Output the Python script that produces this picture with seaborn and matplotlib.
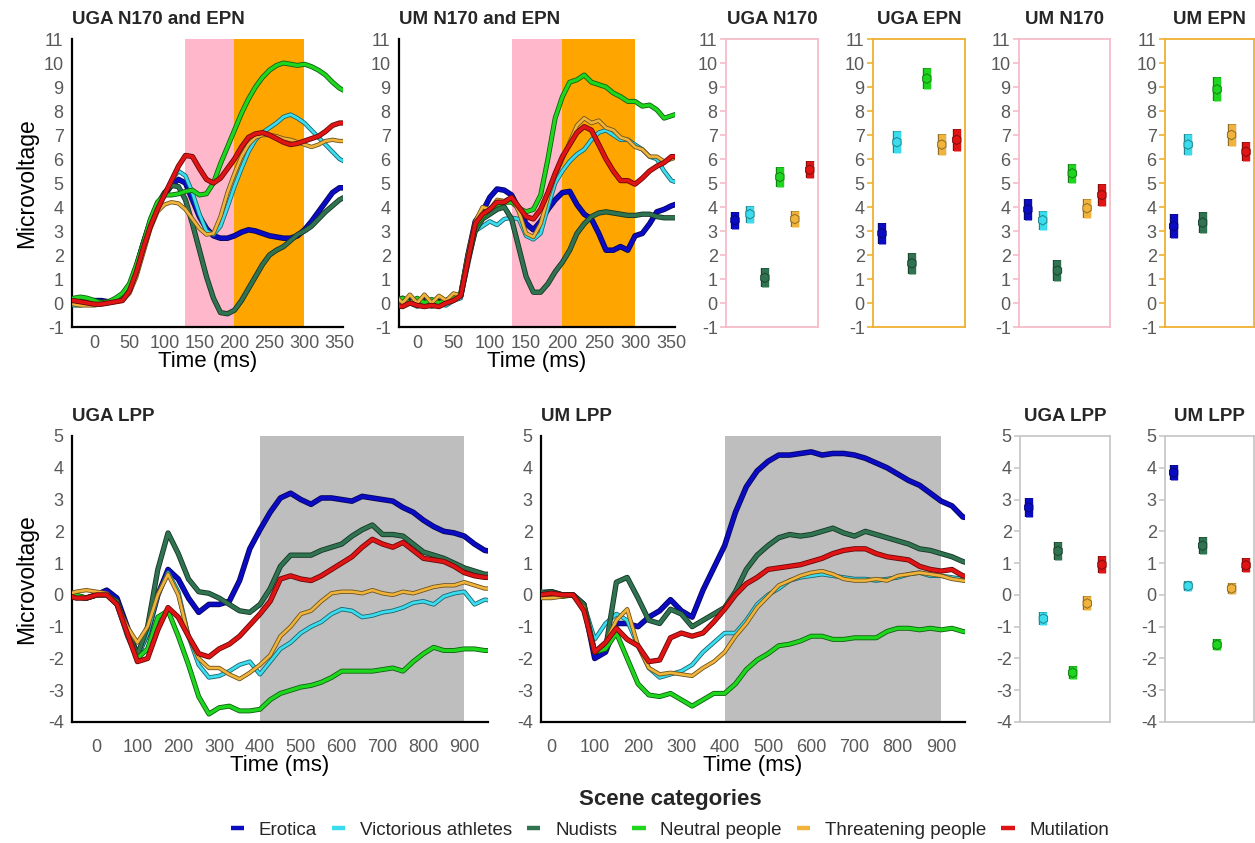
import numpy as np
import pandas as pd
import matplotlib
matplotlib.use("Agg")
import matplotlib.pyplot as plt
import matplotlib.patheffects as pe
from matplotlib.lines import Line2D
import seaborn as sns

# ---------------- data ----------------
CATEGORIES = ["Erotica", "Victorious athletes", "Nudists", "Neutral people",
              "Threatening people", "Mutilation"]
COLORS = ["#0b0bc4", "#3adced", "#2f7350", "#1fd61f", "#f0b43c", "#e01414"]

TIME_TOP = list(range(-30, 361, 10))
TIME_LPP = list(range(-75, 976, 25))

UGA_EPN_EROTICA = [0.0, 0.05, 0.1, 0.1, 0.1, 0.05, 0.1, 0.3, 0.7, 1.5, 2.5, 3.4, 4.1, 4.5, 4.9, 5.15, 5.0, 4.3, 3.6, 3.1,
                   2.8, 2.7, 2.7, 2.8, 2.95, 3.05, 3.0, 2.9, 2.8, 2.75, 2.7, 2.7, 2.8, 3.05, 3.4, 3.8, 4.2, 4.6, 4.8, 4.8]
UGA_EPN_VICTORIOUS = [-0.1, -0.1, -0.05, 0.0, 0.0, 0.0, 0.1, 0.3, 0.6, 1.3, 2.3, 3.3, 4.0, 4.5, 5.1, 5.5, 5.3, 4.6, 3.7, 3.0,
                      2.85, 3.2, 4.0, 4.85, 5.6, 6.3, 6.8, 7.1, 7.3, 7.5, 7.75, 7.85, 7.7, 7.5, 7.2, 6.9, 6.6, 6.3, 6.0, 5.85]
UGA_EPN_NUDISTS = [0.0, 0.0, 0.05, 0.0, 0.05, 0.05, 0.1, 0.3, 0.7, 1.5, 2.5, 3.4, 4.1, 4.6, 4.9, 4.85, 4.3, 3.3, 2.2, 1.1,
                   0.2, -0.4, -0.45, -0.3, 0.1, 0.6, 1.1, 1.6, 2.0, 2.2, 2.35, 2.6, 2.85, 3.0, 3.2, 3.5, 3.8, 4.05, 4.3, 4.45]
UGA_EPN_NEUTRAL = [0.2, 0.25, 0.2, 0.1, 0.0, 0.05, 0.2, 0.4, 0.8, 1.6, 2.5, 3.5, 4.2, 4.5, 4.5, 4.55, 4.65, 4.7, 4.5, 4.55,
                   5.0, 5.8, 6.5, 7.2, 7.9, 8.5, 9.0, 9.4, 9.7, 9.9, 10.0, 9.95, 9.9, 9.95, 9.85, 9.7, 9.5, 9.2, 8.95, 8.8]
UGA_EPN_THREAT = [-0.05, -0.1, -0.1, -0.1, -0.05, 0.0, 0.05, 0.1, 0.4, 1.1, 2.1, 3.1, 3.8, 4.1, 4.2, 4.15, 3.9, 3.5, 3.1, 2.85,
                  2.9, 3.6, 4.6, 5.4, 6.1, 6.6, 6.9, 7.0, 7.0, 6.95, 6.85, 6.8, 6.7, 6.6, 6.5, 6.6, 6.75, 6.8, 6.75, 6.75]
UGA_EPN_MUTIL = [0.1, 0.05, 0.0, -0.05, -0.05, 0.0, 0.05, 0.1, 0.5, 1.3, 2.3, 3.2, 3.9, 4.5, 5.1, 5.7, 6.15, 6.1, 5.6, 5.15,
                 5.0, 5.2, 5.6, 6.0, 6.5, 6.9, 7.05, 7.1, 7.0, 6.85, 6.7, 6.6, 6.65, 6.75, 6.85, 6.95, 7.15, 7.4, 7.5, 7.5]

UM_EPN_EROTICA = [0.1, 0.0, 0.1, 0.0, 0.1, 0.0, 0.05, 0.1, 0.2, 0.3, 2.0, 3.4, 3.8, 4.4, 4.75, 4.7, 4.5, 3.9, 3.3, 3.05,
                  3.4, 3.9, 4.3, 4.6, 4.65, 4.1, 3.7, 3.5, 2.9, 2.2, 2.2, 2.35, 2.2, 2.8, 2.9, 3.3, 3.8, 3.9, 4.05, 4.15]
UM_EPN_VICTORIOUS = [0.0, -0.15, 0.0, -0.15, 0.0, -0.15, -0.05, -0.1, 0.1, 0.2, 1.6, 3.0, 3.2, 3.4, 3.25, 3.5, 3.55, 3.5, 2.8, 2.65,
                     2.9, 4.0, 5.0, 5.5, 5.9, 6.2, 6.4, 6.8, 7.1, 7.2, 7.0, 6.8, 6.8, 6.6, 6.4, 6.1, 6.0, 5.5, 5.1, 5.0]
UM_EPN_NUDISTS = [0.1, 0.2, 0.0, 0.1, 0.05, 0.1, 0.0, 0.1, 0.2, 0.3, 1.8, 3.0, 3.5, 3.7, 3.9, 4.0, 3.5, 2.3, 1.1, 0.45,
                  0.45, 0.8, 1.3, 1.7, 2.2, 2.9, 3.3, 3.6, 3.75, 3.8, 3.75, 3.7, 3.65, 3.65, 3.7, 3.7, 3.6, 3.55, 3.55, 3.55]
UM_EPN_NEUTRAL = [0.1, 0.2, 0.0, 0.2, 0.0, 0.15, 0.0, 0.1, 0.2, 0.4, 2.0, 3.2, 3.6, 3.9, 4.1, 4.2, 4.2, 3.95, 3.8, 3.9,
                  4.5, 6.0, 7.7, 8.6, 9.2, 9.3, 9.5, 9.2, 9.1, 9.0, 8.75, 8.6, 8.4, 8.4, 8.2, 8.25, 8.05, 7.7, 7.8, 7.9]
UM_EPN_THREAT = [0.3, 0.0, 0.35, 0.0, 0.35, 0.0, 0.3, 0.1, 0.4, 0.3, 2.0, 3.4, 4.0, 3.9, 4.3, 4.25, 4.4, 3.8, 2.9, 2.75,
                 3.3, 4.4, 5.3, 6.0, 6.7, 7.4, 7.7, 7.5, 7.6, 7.3, 7.2, 6.9, 6.8, 6.5, 6.4, 6.1, 6.1, 5.9, 6.0, 6.1]
UM_EPN_MUTIL = [-0.1, -0.15, 0.0, -0.1, -0.15, -0.1, -0.15, 0.0, 0.1, 0.3, 1.8, 3.3, 3.7, 3.9, 4.2, 4.2, 4.4, 4.0, 3.6, 3.5,
                3.9, 4.6, 5.4, 6.1, 6.6, 7.1, 7.35, 7.2, 6.6, 6.0, 5.5, 5.1, 5.1, 4.95, 5.2, 5.5, 5.7, 5.85, 6.1, 6.1]

UGA_LPP_EROTICA = [0.0, -0.05, -0.1, 0.0, 0.15, -0.1, -1.0, -1.9, -1.2, 0.0, 0.8, 0.5, -0.1, -0.55, -0.3, -0.3, -0.2, 0.45,
                   1.45, 2.05, 2.6, 3.05, 3.2, 3.0, 2.85, 3.05, 3.05, 3.0, 2.95, 3.1, 3.05, 3.0, 2.95, 2.75, 2.6, 2.35,
                   2.15, 2.0, 1.95, 1.85, 1.6, 1.4, 1.35]
UGA_LPP_VICTORIOUS = [0.0, -0.1, -0.1, 0.0, 0.0, -0.3, -1.3, -2.0, -1.2, 0.0, 0.7, 0.1, -1.3, -2.2, -2.6, -2.55, -2.4, -2.2,
                      -2.1, -2.5, -2.1, -1.7, -1.5, -1.2, -1.0, -0.85, -0.6, -0.45, -0.5, -0.7, -0.65, -0.55, -0.5, -0.4,
                      -0.25, -0.2, -0.3, -0.05, 0.05, 0.1, -0.3, -0.15, -0.2]
UGA_LPP_NUDISTS = [0.1, -0.05, -0.1, 0.0, 0.0, -0.2, -1.1, -1.9, -1.0, 0.8, 1.95, 1.3, 0.5, 0.1, 0.05, -0.1, -0.3, -0.5,
                   -0.55, -0.3, 0.2, 0.9, 1.25, 1.25, 1.25, 1.4, 1.5, 1.6, 1.85, 2.05, 2.2, 1.9, 1.9, 1.85, 1.6, 1.35,
                   1.25, 1.15, 1.0, 0.85, 0.75, 0.65, 0.65]
UGA_LPP_NEUTRAL = [0.15, 0.0, -0.1, 0.0, 0.0, -0.3, -1.2, -2.0, -1.7, -0.7, -0.5, -1.3, -2.2, -3.2, -3.75, -3.55, -3.5,
                   -3.65, -3.65, -3.6, -3.3, -3.1, -3.0, -2.9, -2.85, -2.75, -2.6, -2.4, -2.4, -2.4, -2.4, -2.35, -2.3,
                   -2.4, -2.1, -1.85, -1.65, -1.75, -1.75, -1.7, -1.7, -1.75, -1.75]
UGA_LPP_THREAT = [0.0, 0.1, 0.15, 0.1, 0.05, -0.3, -1.0, -1.5, -1.0, 0.0, 0.65, 0.0, -1.3, -2.0, -2.3, -2.3, -2.5, -2.65,
                  -2.45, -2.2, -1.9, -1.3, -1.0, -0.6, -0.5, -0.2, 0.05, 0.1, 0.1, 0.05, 0.15, 0.05, 0.0, 0.1, 0.05,
                  0.15, 0.25, 0.3, 0.3, 0.4, 0.3, 0.2, 0.2]
UGA_LPP_MUTIL = [0.0, -0.1, -0.1, 0.0, 0.0, -0.3, -1.2, -2.1, -2.0, -1.1, -0.4, -0.7, -1.3, -1.85, -1.95, -1.7, -1.55,
                 -1.3, -0.95, -0.6, -0.2, 0.5, 0.6, 0.5, 0.45, 0.6, 0.8, 1.0, 1.2, 1.5, 1.75, 1.6, 1.5, 1.65, 1.4, 1.15,
                 1.1, 1.05, 0.9, 0.7, 0.6, 0.55, 0.55]

UM_LPP_EROTICA = [0.1, 0.1, 0.05, 0.1, 0.0, 0.0, -0.3, -2.0, -1.8, -0.9, -0.9, -1.0, -0.7, -0.5, -0.15, -0.5, -0.7, 0.15,
                  0.85, 1.55, 2.6, 3.4, 3.9, 4.2, 4.4, 4.4, 4.45, 4.5, 4.4, 4.45, 4.45, 4.4, 4.3, 4.15, 4.0, 3.8, 3.6,
                  3.45, 3.2, 2.95, 2.8, 2.45, 2.4]
UM_LPP_VICTORIOUS = [0.1, 0.15, 0.1, 0.1, 0.0, 0.0, -0.3, -1.4, -0.9, -0.6, -0.8, -1.6, -2.3, -2.6, -2.5, -2.4, -2.2,
                     -1.8, -1.5, -1.2, -1.2, -0.8, -0.3, 0.0, 0.2, 0.45, 0.55, 0.6, 0.65, 0.6, 0.55, 0.5, 0.5, 0.45,
                     0.5, 0.55, 0.65, 0.7, 0.6, 0.6, 0.55, 0.5, 0.45]
UM_LPP_NUDISTS = [0.1, 0.1, 0.05, 0.1, 0.0, 0.0, -0.3, -1.8, -1.7, 0.4, 0.55, -0.1, -0.8, -0.9, -0.45, -0.6, -1.0, -0.8,
                  -0.6, -0.4, 0.1, 0.8, 1.25, 1.55, 1.8, 1.9, 1.85, 1.9, 2.0, 2.1, 1.95, 1.85, 2.0, 1.9, 1.8, 1.7, 1.6,
                  1.45, 1.4, 1.3, 1.2, 1.05, 0.95]
UM_LPP_NEUTRAL = [0.0, 0.05, -0.05, 0.05, -0.05, 0.0, -0.4, -1.8, -1.7, -1.2, -2.0, -2.8, -3.15, -3.2, -3.1, -3.3, -3.5,
                  -3.3, -3.1, -3.1, -2.8, -2.35, -2.05, -1.85, -1.6, -1.55, -1.45, -1.3, -1.3, -1.4, -1.4, -1.35, -1.35,
                  -1.35, -1.15, -1.05, -1.05, -1.1, -1.05, -1.1, -1.05, -1.15, -1.2]
UM_LPP_THREAT = [-0.1, -0.15, -0.1, -0.1, -0.05, 0.0, -0.4, -1.8, -1.5, -0.8, -0.45, -1.6, -2.3, -2.5, -2.45, -2.5,
                 -2.55, -2.3, -2.1, -1.8, -1.3, -0.9, -0.4, -0.05, 0.3, 0.45, 0.6, 0.7, 0.75, 0.65, 0.5, 0.45, 0.45,
                 0.5, 0.45, 0.6, 0.65, 0.7, 0.65, 0.6, 0.5, 0.45, 0.4]
UM_LPP_MUTIL = [0.1, 0.1, 0.0, 0.05, 0.0, 0.0, -0.5, -1.8, -1.5, -1.05, -1.4, -1.6, -2.1, -2.05, -1.35, -1.2, -1.3, -1.2,
                -0.85, -0.45, 0.0, 0.35, 0.55, 0.8, 0.85, 0.9, 0.95, 1.05, 1.15, 1.3, 1.4, 1.45, 1.45, 1.3, 1.2, 1.15,
                1.1, 0.9, 0.8, 0.75, 0.8, 0.6, 0.55]

# small summary panels: means and error half-widths (category order above)
UGA_N170_MEAN = [3.45, 3.7, 1.05, 5.25, 3.5, 5.55]
UGA_N170_ERR = [0.35, 0.35, 0.4, 0.4, 0.35, 0.35]
UGA_EPN_MEAN = [2.9, 6.7, 1.65, 9.35, 6.6, 6.8]
UGA_EPN_ERR = [0.45, 0.45, 0.45, 0.45, 0.45, 0.45]
UM_N170_MEAN = [3.9, 3.45, 1.35, 5.4, 3.95, 4.5]
UM_N170_ERR = [0.45, 0.4, 0.45, 0.4, 0.4, 0.45]
UM_EPN_MEAN = [3.2, 6.6, 3.35, 8.9, 7.0, 6.3]
UM_EPN_ERR = [0.5, 0.45, 0.45, 0.5, 0.45, 0.4]
UGA_LPP_MEAN = [2.75, -0.75, 1.38, -2.45, -0.27, 0.95]
UGA_LPP_ERR = [0.3, 0.2, 0.28, 0.2, 0.22, 0.27]
UM_LPP_MEAN = [3.85, 0.28, 1.55, -1.57, 0.2, 0.93]
UM_LPP_ERR = [0.25, 0.17, 0.27, 0.17, 0.18, 0.22]

# ---------------- style ----------------
sns.set_theme(style="white")
plt.rcParams["font.family"] = ["Liberation Sans", "DejaVu Sans"]
plt.rcParams["axes.unicode_minus"] = False
TICK_COLOR = "#595959"
PAL = dict(zip(CATEGORIES, COLORS))
LW = [2.8, 2.0, 2.6, 2.4, 1.9, 2.6]


def darker(c, f=0.45):
    r, g, b = matplotlib.colors.to_rgb(c)
    return (r * f, g * f, b * f)


W, H = 1255, 843
fig = plt.figure(figsize=(W / 100, H / 100), dpi=100)


def add_ax(x0, x1, y0, y1):
    return fig.add_axes([x0 / W, 1 - y1 / H, (x1 - x0) / W, (y1 - y0) / H])


def wave_panel(ax, times, series, xlim, ylim, xticks, yticks, spans, title, xpad, ylabel=False,
               xlab_y=-0.09, ylab_x=-0.125):
    for (a, b, col) in spans:
        ax.axvspan(a, b, color=col, lw=0, zorder=0)
    rows = []
    for cat, vals in zip(CATEGORIES, series):
        for t, v in zip(times, vals):
            rows.append((t, v, cat))
    df = pd.DataFrame(rows, columns=["time", "uv", "cat"])
    sns.lineplot(data=df, x="time", y="uv", hue="cat", hue_order=CATEGORIES, palette=PAL,
                 estimator=None, errorbar=None, sort=False, legend=False, ax=ax)
    for line, c, lw in zip(ax.lines, COLORS, LW):
        line.set_linewidth(lw)
        line.set_solid_joinstyle("round")
        line.set_path_effects([pe.Stroke(linewidth=lw + 1.2, foreground=darker(c)), pe.Normal()])
        line.set_zorder(3)
    ax.set_xlim(*xlim)
    ax.set_ylim(*ylim)
    ax.set_xticks(xticks)
    ax.set_yticks(yticks)
    ax.set_facecolor("white")
    for s in ["top", "right"]:
        ax.spines[s].set_visible(False)
    for s in ["left", "bottom"]:
        ax.spines[s].set_color("black")
        ax.spines[s].set_linewidth(1.6)
    ax.tick_params(axis="both", direction="out", length=4, width=1.3, color="black",
                   labelcolor=TICK_COLOR, labelsize=13)
    ax.tick_params(axis="x", pad=xpad, length=0)
    ax.tick_params(axis="y", pad=2)
    ax.set_xlabel("Time (ms)", fontsize=16, color="black")
    ax.xaxis.set_label_coords(0.5, xlab_y)
    ax.xaxis.label.set_va("top")
    if ylabel:
        ax.set_ylabel("Microvoltage", fontsize=16.5, color="black")
        ax.yaxis.set_label_coords(ylab_x, 0.5)
    else:
        ax.set_ylabel("")
    ax.set_title(title, loc="left", fontsize=13.5, fontweight="bold", pad=11, x=0.0)


def summary_panel(ax, means, errs, edge, ylim, yticks, title):
    pos = list(range(len(CATEGORIES)))
    for p, m, e, c in zip(pos, means, errs, COLORS):
        ax.vlines(p, m - e, m + e, colors=c, linewidth=5.0, zorder=2,
                  path_effects=[pe.Stroke(linewidth=6.0, foreground=darker(c, 0.6)), pe.Normal()])
    df = pd.DataFrame({"pos": pos, "mean": means, "cat": CATEGORIES})
    sns.scatterplot(data=df, x="pos", y="mean", hue="cat", hue_order=CATEGORIES, palette=PAL,
                    marker="h", s=48, linewidth=0.7, legend=False, ax=ax, zorder=3)
    ax.collections[-1].set_edgecolors([darker(c, 0.6) for c in COLORS])
    ax.set_xlim(-0.6, 5.55)
    ax.set_ylim(*ylim)
    ax.set_yticks(yticks)
    ax.set_xticks([])
    ax.set_xlabel("")
    ax.set_ylabel("")
    ax.set_facecolor("white")
    for s in ax.spines.values():
        s.set_visible(True)
        s.set_color(edge)
        s.set_linewidth(1.3)
    ax.tick_params(axis="y", direction="out", length=4, width=1.2, color=edge,
                   labelcolor=TICK_COLOR, labelsize=13, pad=2, left=True)
    ax.set_title(title, fontsize=13.5, fontweight="bold", pad=11)


PINK = "#ffb8cb"
ORANGE = "#ffa500"
GRAY = "#bebebe"
PINK_EDGE = "#f4bcc8"
ORANGE_EDGE = "#f0b030"
GRAY_EDGE = "#c8c8c8"

top_y = (39, 327)
bot_y = (436, 722)
yt_top = list(range(-1, 12))
yt_bot = list(range(-4, 6))

ax1 = add_ax(72, 343, *top_y)
wave_panel(ax1, TIME_TOP,
           [UGA_EPN_EROTICA, UGA_EPN_VICTORIOUS, UGA_EPN_NUDISTS, UGA_EPN_NEUTRAL, UGA_EPN_THREAT, UGA_EPN_MUTIL],
           (-32, 355), (-1, 11), list(range(0, 351, 50)), yt_top,
           [(130, 200, PINK), (200, 300, ORANGE)], "UGA N170 and EPN", xpad=6, ylabel=True,
           xlab_y=-0.085, ylab_x=-0.125)

ax2 = add_ax(399, 675, *top_y)
wave_panel(ax2, TIME_TOP,
           [UM_EPN_EROTICA, UM_EPN_VICTORIOUS, UM_EPN_NUDISTS, UM_EPN_NEUTRAL, UM_EPN_THREAT, UM_EPN_MUTIL],
           (-25, 355), (-1, 11), list(range(0, 351, 50)), yt_top,
           [(130, 200, PINK), (200, 300, ORANGE)], "UM N170 and EPN", xpad=6, xlab_y=-0.085)

ax3 = add_ax(72, 488, *bot_y)
wave_panel(ax3, TIME_LPP,
           [UGA_LPP_EROTICA, UGA_LPP_VICTORIOUS, UGA_LPP_NUDISTS, UGA_LPP_NEUTRAL, UGA_LPP_THREAT, UGA_LPP_MUTIL],
           (-60, 958), (-4, 5), list(range(0, 901, 100)), yt_bot,
           [(400, 900, GRAY)], "UGA LPP", xpad=12, ylabel=True, xlab_y=-0.115, ylab_x=-0.082)

ax4 = add_ax(541, 965, *bot_y)
wave_panel(ax4, TIME_LPP,
           [UM_LPP_EROTICA, UM_LPP_VICTORIOUS, UM_LPP_NUDISTS, UM_LPP_NEUTRAL, UM_LPP_THREAT, UM_LPP_MUTIL],
           (-24, 955), (-4, 5), list(range(0, 901, 100)), yt_bot,
           [(400, 900, GRAY)], "UM LPP", xpad=12, xlab_y=-0.115)

s1 = add_ax(726, 818, *top_y)
summary_panel(s1, UGA_N170_MEAN, UGA_N170_ERR, PINK_EDGE, (-1, 11), yt_top, "UGA N170")
s2 = add_ax(873, 965, *top_y)
summary_panel(s2, UGA_EPN_MEAN, UGA_EPN_ERR, ORANGE_EDGE, (-1, 11), yt_top, "UGA EPN")
s3 = add_ax(1019, 1110, *top_y)
summary_panel(s3, UM_N170_MEAN, UM_N170_ERR, PINK_EDGE, (-1, 11), yt_top, "UM N170")
s4 = add_ax(1165, 1254, *top_y)
summary_panel(s4, UM_EPN_MEAN, UM_EPN_ERR, ORANGE_EDGE, (-1, 11), yt_top, "UM EPN")
s5 = add_ax(1020, 1110, *bot_y)
summary_panel(s5, UGA_LPP_MEAN, UGA_LPP_ERR, GRAY_EDGE, (-4, 5), yt_bot, "UGA LPP")
s6 = add_ax(1165, 1254, *bot_y)
summary_panel(s6, UM_LPP_MEAN, UM_LPP_ERR, GRAY_EDGE, (-4, 5), yt_bot, "UM LPP")

handles = [Line2D([0], [0], color=c, lw=3.2, solid_capstyle="butt") for c in COLORS]
leg = fig.legend(handles, CATEGORIES, loc="center", bbox_to_anchor=(670 / W, 1 - 814 / H), ncol=6,
                 frameon=False, fontsize=13.5, title="Scene categories",
                 title_fontproperties={"weight": "bold", "size": 16},
                 handlelength=0.7, handletextpad=0.8, columnspacing=0.8, borderpad=0.1,
                 labelspacing=0.2)
leg._legend_box.sep = 8

fig.savefig("out.png", dpi=100, facecolor="white")
